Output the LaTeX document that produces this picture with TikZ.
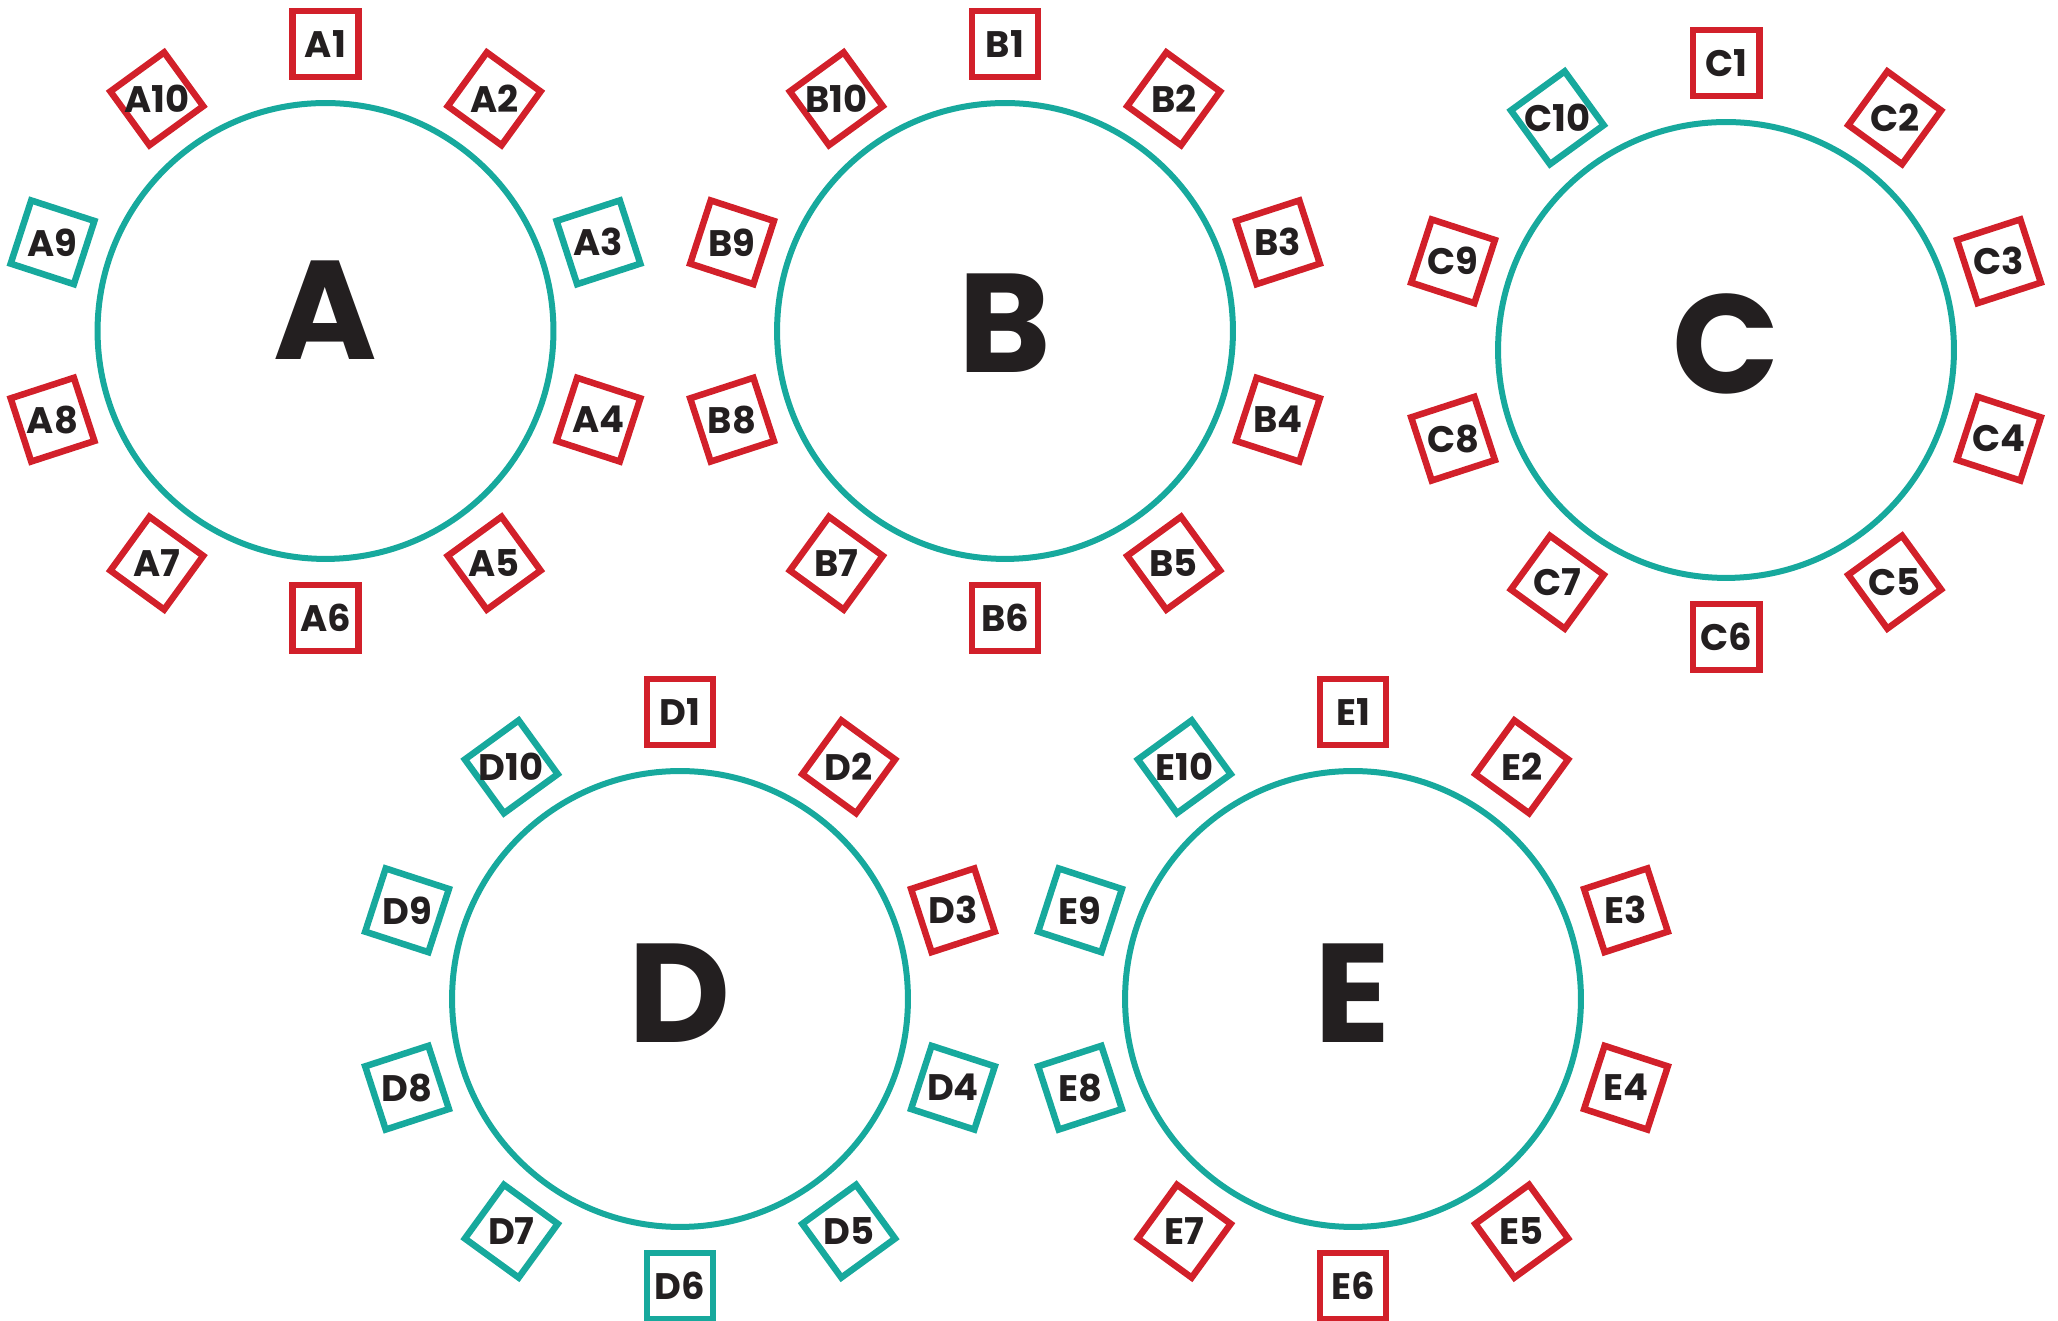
\documentclass[tikz,border=0pt]{standalone}
\usepackage{fontspec}
\setmainfont{Poppins}
\usetikzlibrary{shapes.geometric, calc}
\definecolor{redA}{HTML}{D2202A}
\definecolor{tealA}{HTML}{17A99D}
\definecolor{inkA}{HTML}{231F20}
\newcommand{\seatname}[1]{\makebox[0pt]{#1}}

\begin{document}
\begin{tikzpicture}[
  x=0.02cm, y=0.02cm,
  ring/.style={
    circle, draw=tealA, line width=0.12cm,
    minimum size=9.12cm, inner sep=0pt
  },
  bigletter/.style={
    text=inkA, inner sep=0pt,
    font=\fontsize{80}{80}\selectfont\bfseries
  },
  seat/.style={
    regular polygon, regular polygon sides=4,
    draw=#1, line width=0.13cm,
    minimum size=1.88cm, inner sep=0pt,
    text=inkA, font=\fontsize{21}{22}\selectfont\bfseries
  }
]
\useasboundingbox (0,0) rectangle (2058,1321);

%% ═══ RING A ═══
\node[ring] (A) at (325.5,990) {};
\node[bigletter] (A0) at ($(A)+(0,21)$) {A};
\foreach \i/\col [evaluate=\i as \ang using 126-36*\i] in
  {1/redA,2/redA,3/tealA,4/redA,5/redA,6/redA,7/redA,8/redA,9/tealA,10/redA}
  \node[seat=\col, shape border rotate=\ang] (A\i) at ($(A)+(\ang:287)$) {\seatname{A\i}};

%% ═══ RING B ═══
\node[ring] (B) at (1005,990) {};
\node[bigletter] (B0) at ($(B)+(0,8)$) {B};
\foreach \i/\col [evaluate=\i as \ang using 126-36*\i] in
  {1/redA,2/redA,3/redA,4/redA,5/redA,6/redA,7/redA,8/redA,9/redA,10/redA}
  \node[seat=\col, shape border rotate=\ang] (B\i) at ($(B)+(\ang:287)$) {\seatname{B\i}};

%% ═══ RING C ═══
\node[ring] (C) at (1726,971) {};
\node[bigletter] (C0) at ($(C)+(0,6)$) {C};
\foreach \i/\col [evaluate=\i as \ang using 126-36*\i] in
  {1/redA,2/redA,3/redA,4/redA,5/redA,6/redA,7/redA,8/redA,9/redA,10/tealA}
  \node[seat=\col, shape border rotate=\ang] (C\i) at ($(C)+(\ang:287)$) {\seatname{C\i}};

%% ═══ RING D ═══
\node[ring] (D) at (680,322) {};
\node[bigletter] (D0) at ($(D)+(0,6)$) {D};
\foreach \i/\col [evaluate=\i as \ang using 126-36*\i] in
  {1/redA,2/redA,3/redA,4/tealA,5/tealA,6/tealA,7/tealA,8/tealA,9/tealA,10/tealA}
  \node[seat=\col, shape border rotate=\ang] (D\i) at ($(D)+(\ang:287)$) {\seatname{D\i}};

%% ═══ RING E ═══
\node[ring] (E) at (1353,322) {};
\node[bigletter] (E0) at ($(E)+(0,6)$) {E};
\foreach \i/\col [evaluate=\i as \ang using 126-36*\i] in
  {1/redA,2/redA,3/redA,4/redA,5/redA,6/redA,7/redA,8/tealA,9/tealA,10/tealA}
  \node[seat=\col, shape border rotate=\ang] (E\i) at ($(E)+(\ang:287)$) {\seatname{E\i}};

\end{tikzpicture}
\end{document}
